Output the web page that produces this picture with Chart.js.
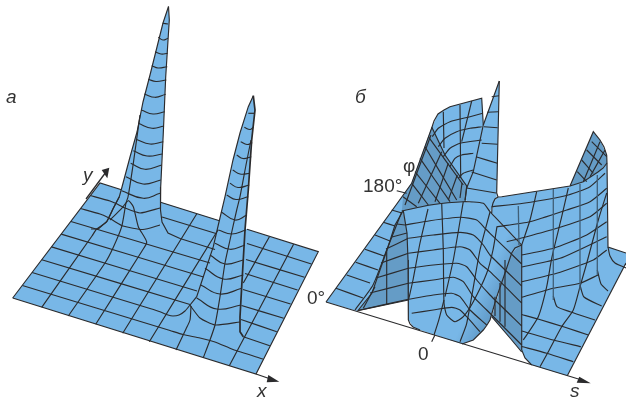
<!DOCTYPE html>
<html>
<head>
<meta charset="utf-8">
<script src="https://cdn.jsdelivr.net/npm/chart.js@4"></script>
<style>
  html, body { margin: 0; padding: 0; background: #fff; }
  canvas { display: block; }
</style>
</head>
<body>
<canvas id="chart" width="626" height="399"></canvas>
<script>
// values, in the picture's own x / y units

// panel a: sheet and the two peaks
const aSheet = [[12.7,298],[256,374],[318.3,251.7],[100,183]];
const aPeak1 = [[168.5,6.5],[163,23],[157,47],[150,75],[143,102],[137,132],[130,157],[122,187],[116,205],[112,230],[162,232],[160.5,205],[161.5,165],[163.3,133],[165.7,77],[169.3,20]];
const aPeak2 = [[253.3,95.7],[248.3,106.7],[240,133],[233,160],[225,196.7],[218.3,225],[213.3,246.7],[203.3,276.7],[196.7,296.7],[190,305],[195,335],[240,335],[241.7,286.7],[245,230],[248.3,190],[251.7,140],[255,110]];

const aRows = [
  [[22.4,285.5],[170,330.5],[183,334.5],[200,338],[215,342],[233,349.5],[262.9,359]],
  [[32.1,272.5],[150,308.5],[160,311.7],[168,315],[173,316],[179,315],[185,311],[190,305]],
  [[190,305],[192,308],[200,318],[215,325],[240,322]],
  [[243.3,336.7],[269.8,345.7]],
  [[41.8,259.7],[190,304.5]],
  [[241,319.5],[276.8,331.7]],
  [[51.5,246.9],[197,291]],
  [[241.5,305.5],[283.7,318.3]],
  [[61.2,234.1],[203.5,277]],
  [[243,289.5],[290.6,304]],
  [[70.9,221.5],[210,263]],
  [[245,273.5],[297.5,290]],
  [[80.6,208.5],[100,214],[108,217.5],[114,221],[123,226],[143,229.5],[160,225]],
  [[180,238.5],[215,249.5]],
  [[246,259.5],[304.5,277.3]],
  [[90.3,195.5],[110,201],[116,203.5],[125,208],[140,213],[160,208]],
  [[162,217],[216,233.5]],
  [[247,243.5],[311.4,264]]
];
const aRings1 = [
  [[162.7,23.3],[168,24]],
  [[158.3,37.3],[163,40],[168,38.3]],
  [[155,51.7],[161,54],[167.7,53.3]],
  [[151.7,65.7],[158,68],[167.3,66.7]],
  [[148.3,79.3],[156,81.5],[166.3,80]],
  [[144.3,94],[155,97.3],[165.7,94.3]],
  [[141.3,110],[153,114],[164.7,111.7]],
  [[138.3,123.3],[152,128.3],[164,126]],
  [[136,139.3],[150,144],[163.3,141.7]],
  [[133.3,150.7],[147,156],[162.3,154]],
  [[130.7,163.3],[145,169.3],[161.7,165]],
  [[126,176.7],[143,184],[160.7,180]],
  [[121.7,190.7],[143.3,198.3],[160,193.3]]
];
const aRings2 = [
  [[248.3,113.3],[255,113.3]],
  [[244.3,127.3],[250,129.5],[253.3,127.3]],
  [[240.7,141.7],[247,144.5],[252.3,142.7]],
  [[236.7,155],[243,158.5],[251.3,156.7]],
  [[232.7,170],[240,174],[250,173.3]],
  [[230,183.3],[238,187.5],[249.3,185]],
  [[226.7,195],[236,199.5],[248.3,196.7]],
  [[221,211.7],[235,220],[247,215]],
  [[218.3,230],[231.7,234],[246,230]],
  [[215,243.3],[230,249.3],[245,245]],
  [[210,255],[225,264],[243.3,260]],
  [[205,268.3],[223.3,279],[243.3,275]],
  [[200.7,285],[220,294],[241.7,288.3]],
  [[196.7,298],[216.7,309],[241,305]]
];
const aCols = [
  [[41.7,307.3],[92,236],[96.7,229],[106.7,221.7],[113.3,208.3],[119.3,196.7]],
  [[68.3,316],[105,263],[113,248],[121.7,226.7],[126,203],[128,197],[133.3,163.3],[140,115]],
  [[95.7,324.3],[142,251],[146.7,242],[138.3,226.7],[133.3,206.7],[128.3,200.7],[121.7,208.3],[110,220]],
  [[122.7,333.3],[196.8,213.7]],
  [[149.3,341.7],[218,230]],
  [[176,350],[186,329],[190,320],[191,306]],
  [[203.3,357.7],[210,340],[215,325],[220,296.7],[225,263],[230,240],[236.7,210],[240,196.7],[246,165],[251,140]],
  [[243.3,283],[269.4,236.7]],
  [[229.3,365.7],[293.6,244.3]]
];
const aOutline = [
  [[12.7,298],[256,374],[318.3,251.7],[247,229.3]],
  [[12.7,298],[100,183],[121.5,189.8]],
  [[160.5,202.3],[219.5,220.8]]
];
const aSilhouettes = [
  [[168.5,6.5],[163,23],[157,47],[150,75],[143,102],[137,132],[130,157],[122,187],[119.3,196.7],[113.3,208.3],[106.7,221.7],[98.3,229],[91,229]],
  [[168.5,6.5],[169.3,20],[165.7,77],[163.3,133],[160.7,187],[160.5,210],[162,222],[168,233],[180,238.5]],
  [[253.3,95.7],[248.3,106.7],[240,133],[233,160],[225,196.7],[218.3,225],[213.3,246.7],[203.3,276.7],[196.7,296.7],[190,305]]
];
const aThickEdge = [[253.3,95.7],[255,110],[251.7,140],[248.3,190],[245,230],[241.7,286.7],[240,316.7],[240,331.7],[243.3,336.7]];

// panel b: surfaces, back to front
const bSheetLeft = [[326,302],[357,311],[372,295],[388,247],[402,212],[405,195],[411.7,183.3]];
const bBackLight = [[431.7,128],[438,114],[450,106.7],[481.7,98.3],[483.3,125],[473.3,171.7],[466.7,188],[431.7,150]];
const bBackDark = [[431.7,127],[445,155],[466.7,186],[465,202],[401.7,212],[403.3,195],[411.7,182.5]];
const bSpike = [[499.3,81],[483.3,125],[473.3,171.7],[466.7,188],[465,200],[490,212],[496.7,196.7]];
const bRightBack = [[570,186],[593.3,131.7],[600,140],[606.7,155],[607,163],[598.3,171.7],[583.3,181.7]];
const bRightWall = [[491.7,213],[493,203],[498,197],[501.7,196.7],[570,186],[583.3,181.7],[598.3,171.7],[607,163],[608,247],[626,253],[626,263],[567.3,375.7],[531.7,365],[525,358],[521.7,350],[521.7,245]];
const bLeftDark = [[403,211],[395,225],[388,247],[372,293],[358,310.5],[408.5,300],[408,233]];
const bBandDark = [[521.7,244],[511.7,253],[503.3,278],[491.7,316.7],[510,338],[521.7,352]];
const bHill = [[403.3,210.7],[440,204],[463,201.7],[477,203.3],[490,211.7],[521,245],[511.7,253],[503.3,278],[496.7,297],[490,320],[483.3,330],[473.3,340],[462,344],[420,330],[413,327],[408.7,320],[408,260],[407,233]];

const bHillRows = [
  [[401.7,211],[430,205],[463.3,201.7],[483.3,203.3],[490,211.7],[521.7,245]],
  [[405,225],[430,220.7],[460,217.3],[476.7,220],[485,228.3],[490,233.3],[521.7,264]],
  [[408.3,238.3],[433.3,235],[460,232.3],[473.3,235],[483.3,245],[490,255],[521.7,286]],
  [[408.3,253.3],[433.3,250],[460,246.7],[470,250],[480,263.3],[490,271.7],[521.7,303]],
  [[408.3,268.3],[433.3,265],[456.7,263.3],[466.7,266.7],[476.7,280],[490,295],[521.7,326]],
  [[408.3,283.3],[433.3,280],[453.3,277.3],[463.3,281.7],[473.3,296.7],[486.7,310],[521.7,345]],
  [[408.3,299.3],[433.3,295],[451.7,293.3],[460,296.7],[470,310],[486.7,325]],
  [[411.7,313.3],[433.3,310],[451.7,307.3],[460,310],[466.7,316.7],[480,331.7]]
];
const bHillCols = [
  [[428,209],[420,243],[413,280],[408.5,300]],
  [[441.7,203.3],[443.3,250],[444,303],[446.7,315],[455,321.7],[463.3,316.7],[473.3,301.7],[486.7,273.3],[493,250],[497,226.7]],
  [[444,300],[438.3,321.7],[434,335]],
  [[463.3,201.7],[453.3,260],[445,296.7]],
  [[490,212],[480,250],[466.7,323.3],[460,341.7]]
];
const bLeftRows = [
  [[336,288.3],[363,298]],
  [[346.7,275],[370,283]],
  [[355.7,262.3],[378,270]],
  [[365,249.3],[384,256]],
  [[375,235],[390,241]],
  [[383.3,222.3],[395,226]],
  [[391.7,210],[402,213]],
  [[370,293],[408.3,283.3]],
  [[358,310.5],[408.3,299.3]],
  [[376,278],[408.3,268.3]],
  [[381,263],[408.3,253.3]],
  [[386,249],[408.3,238.3]],
  [[392,237],[407,233]],
  [[397,224],[405,225]]
];
const bLeftCols = [
  [[355,310],[373,285],[386.7,250],[401.7,212]],
  [[363.3,308.3],[375,286.7]],
  [[386.7,250],[386.7,305]]
];
const bBackRows = [
  [[432.3,136.7],[438.3,128.3],[450,121.7],[470,116.7],[482.7,113.3]],
  [[438.3,146.7],[445,138.3],[456.7,131.7],[470,128.3],[481.7,126.7]],
  [[443.3,156.7],[450,148.3],[460,143.3],[481.7,140]],
  [[450,166.7],[455,158.3],[461.7,155],[473.3,153.3]],
  [[458.3,178.3],[463.3,173.3],[473.3,170]],
  [[443.3,111.7],[444,148]],
  [[460,105],[460.7,178]],
  [[471.7,101],[461.7,141.7]]
];
const bBackDiag = [
  [[428.3,136.7],[463.3,185]],
  [[425,146.7],[456.7,200]],
  [[420,158.3],[450,201.7]],
  [[415,171.7],[440,203.3]],
  [[411.7,183.3],[428.3,205]],
  [[403,196.7],[416.7,206.7]],
  [[441.7,151.7],[418.3,203.3]],
  [[448.3,163.3],[435,201.7]],
  [[457.3,175],[448.3,200]],
  [[431,135],[405,205]],
  [[462,183],[460,198]]
];
const bSpikeRows = [
  [[491.7,96.7],[499,95.7]],
  [[487.3,112.3],[498.3,111.7]],
  [[484,126.7],[497.7,127.7]],
  [[481.7,143.3],[497.7,144.3]],
  [[476.7,157],[497.3,163.3]],
  [[471.7,172],[496.7,180]],
  [[466.7,188],[496,193]]
];
const bWallRows = [
  [[491.7,206.7],[523.3,203.3],[568.3,195],[590,186.7],[605,173.3]],
  [[496.7,226.7],[530,221.7],[566.7,210],[590,201.7],[606.7,188.3]],
  [[506.7,241.7],[526.7,236.7],[556.7,228.3],[590,216.7],[606.7,203.3]],
  [[521.7,255],[553.3,248.3],[586.7,235],[606.7,221.7]],
  [[521.7,267],[560,258.3],[606.7,236.7]],
  [[521.7,281.7],[556.7,273.3],[593.3,260],[606.7,250]],
  [[521.7,297.3],[553.3,288.3],[580,283.3],[598,275]]
];
const bWallVerts = [
  [[518.3,206],[519,245]],
  [[553.3,189],[553.3,300]],
  [[580,184],[580,290]],
  [[597.3,175],[597.3,275]]
];
const bWallDiag = [
  [[536.7,191.7],[530,220],[521.7,245]],
  [[568.3,188],[561.7,216.7],[551.7,258.3],[546.7,286.7],[538.3,316.7],[523.3,340]],
  [[540,366.7],[548.3,351.7],[561.7,326.7],[573.3,310],[580,286.7],[586.7,263.3],[598.3,220],[606.7,193]]
];
const bSheetRight = [
  [[521.7,314.5],[538,319],[565,327.3],[588.3,335]],
  [[521.7,331],[553.3,340],[581,346.7]],
  [[521.7,346.5],[546.7,353.3],[573.3,361.7]],
  [[553.3,296],[557,306.7],[570,311.7],[595,320]],
  [[580,285],[584,297],[601.7,306]],
  [[597.3,270],[601,284],[608,291]],
  [[608,247],[610,256],[615,263],[626,268]]
];
const bBackGrid = [
  [[577.3,171.7],[586.7,181.7]],
  [[581.7,160],[593.3,173.3]],
  [[586.7,150],[601.7,165]],
  [[591.7,141.7],[606.7,156.7]],
  [[583.3,181.7],[600,141.7]],
  [[590,176.7],[605,150]]
];
const bBandVerts = [
  [[500,283],[500,321.7]],
  [[505,260],[505,326.7]],
  [[495,296.7],[495,316]]
];
const bOutline = [
  [[326,302],[411.7,183.3],[431.7,128],[434,121],[438,114],[444,110],[450,106.7],[481.7,98.3],[483.3,125]],
  [[431.7,127],[445,155],[466.7,186],[465,202]],
  [[499.3,81],[483.3,125],[473.3,171.7],[466.7,188],[465,200]],
  [[499.3,81],[496.7,193],[498,197],[501.7,196.7],[570,186],[583.3,181.7],[598.3,171.7],[603,168],[607,163]],
  [[491.7,213],[492,207],[493,203],[495,199],[498,197]],
  [[570,186],[593.3,131.7],[600,140],[604,147],[606.7,155],[607,163],[608,247],[626,253]],
  [[403,211],[395,225],[388,247],[372,293],[358,310.5],[408.5,300]],
  [[403.3,210.7],[407,233],[408,260],[408,300],[408.7,320],[410,324],[413,327],[420,330]],
  [[521.7,245],[515,248],[511.7,253],[503.3,278],[496.7,297],[490,320],[487,325],[483.3,330],[473.3,340],[462,344]],
  [[521.7,245],[521.7,350],[525,358],[531.7,365]],
  [[491.7,316.7],[510,338],[521.7,352]],
  [[567.3,375.7],[626,263]]
];
const bAxis = [[326,302],[585,381]];
const bTicks = [
  [[396.7,190.7],[406.7,193.3]],
  [[431.7,341.7],[435,335]]
];

// arrows
const aAxisY = [[86,199],[106,172]];
const aAxisX = [[256,374],[272,379.5]];
const aHeadY = [[101.7,170],[109.3,167.7],[107.3,178.3]];
const aHeadX = [[268.3,375],[279.3,381.7],[266.7,382.3]];
const bHeadS = [[579.3,376.7],[590.7,383.3],[576.7,382.7]];

const labelTexts = ['а', 'б', 'y', 'x', 's', 'φ', '180°', '0°', '0'];
const labelX = [6, 355, 83, 257, 570, 403, 363, 307, 418];
const labelY = [103, 103, 181, 397, 397, 172, 192, 304, 360];
const labelItalic = [true, true, true, true, true, false, false, false, false];

const BLUE = '#78b7e7';
const DARK = '#659cc6';
const INK = '#2b2b2d';

const toPoints = (line) => line.map(p => ({ x: p[0], y: p[1] }));

const canvas = document.getElementById('chart');
const ctx = canvas.getContext('2d');

// hill darkens towards its right rim
const hillFill = ctx.createLinearGradient(455, 270, 505, 295);
hillFill.addColorStop(0, BLUE);
hillFill.addColorStop(0.55, BLUE);
hillFill.addColorStop(1, '#5f98c5');

const surface = (line, color) => ({
  data: toPoints(line), showLine: true, fill: 'shape', backgroundColor: color,
  borderWidth: 0, borderColor: 'transparent', tension: 0, pointRadius: 0
});
const stroke = (line, width, color, tension) => ({
  data: toPoints(line), showLine: true, fill: false,
  borderWidth: width, borderColor: color, tension: tension, pointRadius: 0
});

// painted back to front, reversed below since Chart.js draws the first dataset last
const painted = [
  surface(aSheet, BLUE), surface(aPeak1, BLUE), surface(aPeak2, BLUE),
  surface(bSheetLeft, BLUE), surface(bBackLight, BLUE), surface(bBackDark, DARK),
  surface(bSpike, BLUE), surface(bRightBack, DARK), surface(bRightWall, BLUE),
  surface(bLeftDark, DARK), surface(bBandDark, DARK), surface(bHill, hillFill),
  surface(aHeadY, INK), surface(aHeadX, INK), surface(bHeadS, INK)
];
[aRows, aCols, bLeftRows, bLeftCols, bBackRows, bBackDiag, bSpikeRows, bWallRows, bWallDiag,
 bSheetRight, bBackGrid, bBandVerts, bHillRows, bHillCols, bTicks
].forEach(group => group.forEach(line => painted.push(stroke(line, 1.15, INK, 0.2))));
[aRings1, aRings2].forEach(group => group.forEach(line => painted.push(stroke(line, 1.15, INK, 0.45))));
[aOutline, aSilhouettes, bOutline].forEach(group => group.forEach(line => painted.push(stroke(line, 1.15, INK, 0))));
bWallVerts.forEach(line => painted.push(stroke(line, 1.3, '#3f5f78', 0)));
painted.push(stroke(aThickEdge, 1.7, INK, 0));
painted.push(stroke(bAxis, 1.15, INK, 0), stroke(aAxisY, 1.3, INK, 0), stroke(aAxisX, 1.3, INK, 0));

const labelPlugin = {
  id: 'labels',
  afterDraw(chart) {
    const c = chart.ctx;
    c.save();
    c.fillStyle = '#333';
    c.textBaseline = 'alphabetic';
    labelTexts.forEach((text, i) => {
      c.font = (labelItalic[i] ? 'italic ' : '') + '19px "Liberation Sans"';
      c.fillText(text, chart.scales.x.getPixelForValue(labelX[i]), chart.scales.y.getPixelForValue(labelY[i]));
    });
    c.restore();
  }
};

new Chart(ctx, {
  type: 'scatter',
  data: { datasets: painted.reverse() },
  options: {
    responsive: false,
    animation: false,
    layout: { padding: 0 },
    plugins: { legend: { display: false }, tooltip: { enabled: false } },
    scales: {
      x: { type: 'linear', min: 0, max: 626, display: false },
      y: { type: 'linear', min: 0, max: 399, reverse: true, display: false }
    }
  },
  plugins: [labelPlugin]
});
</script>
</body>
</html>
